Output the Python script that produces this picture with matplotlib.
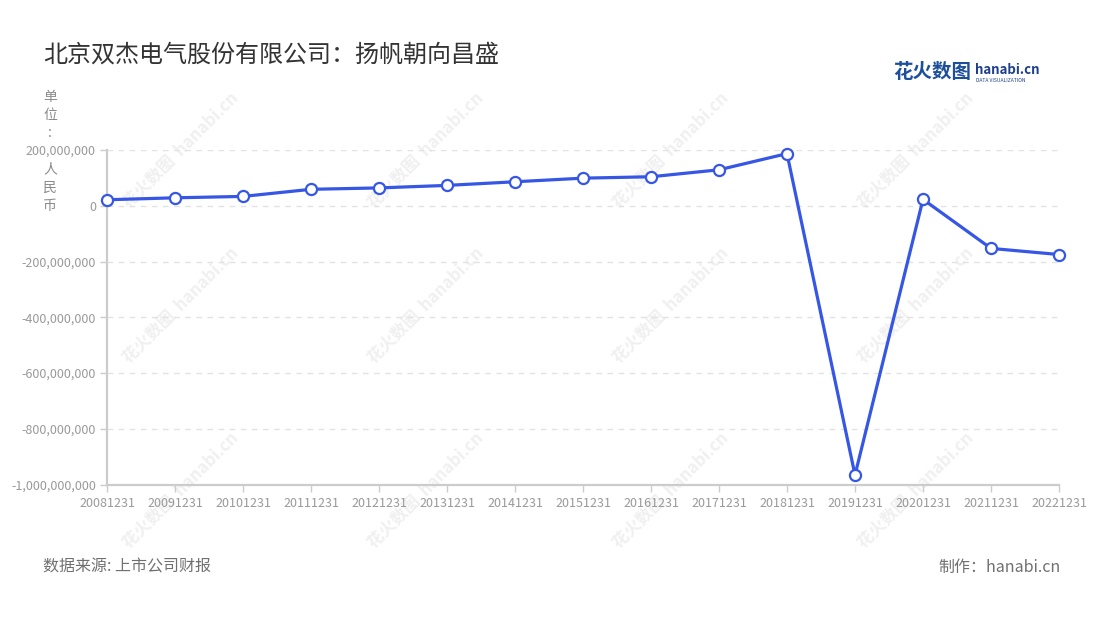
#!/usr/bin/env python3
import matplotlib
matplotlib.use('Agg')
import matplotlib.pyplot as plt
from matplotlib.ticker import FuncFormatter

plt.rcParams['font.family'] = ['Noto Sans CJK SC', 'DejaVu Sans']

# Data (net profit, RMB)
years = ['20081231', '20091231', '20101231', '20111231', '20121231',
         '20131231', '20141231', '20151231', '20161231', '20171231',
         '20181231', '20191231', '20201231', '20211231', '20221231']
profit = [21.5e6, 28.5e6, 33.5e6, 59e6, 64e6,
          73e6, 86e6, 99e6, 104e6, 129e6,
          187e6, -966e6, 23e6, -153e6, -175e6]
yTicks = [-1000000000, -800000000, -600000000, -400000000, -200000000, 0, 200000000]

titleText = '北京双杰电气股份有限公司：扬帆朝向昌盛'
unitText = '单位: 人民币'
sourceText = '数据来源: 上市公司财报'
makerText = '制作：hanabi.cn'

figureWidth = 11
figureHeight = 6.2
fig = plt.figure(figsize=(figureWidth, figureHeight), dpi=100)

# watermarks (very faint, behind everything)
for cx in [180, 425, 670, 915]:
    for cy in [150, 305, 490]:
        fig.text(cx / 1100, 1 - cy / 620, '花火数图  hanabi.cn', rotation=45,
                 ha='center', va='center', fontsize=12, fontweight='bold',
                 color='#f0f0f0', zorder=-5)

# main panel
ax = fig.add_axes([107 / 1100, 135.5 / 620, 952 / 1100, 334.5 / 620])
ax.patch.set_alpha(0)
ax.set_zorder(1)
xs = list(range(len(years)))
ax.plot(xs, profit, color='#3656e6', linewidth=2.3, zorder=3,
        marker='o', markersize=8, markerfacecolor='white',
        markeredgecolor='#3656e6', markeredgewidth=1.6, clip_on=False)

ax.set_xlim(0, len(years) - 1)
ax.set_ylim(-1000000000, 200000000)
ax.set_xticks(xs)
ax.set_xticklabels(years)
ax.set_yticks(yTicks)
ax.yaxis.set_major_formatter(FuncFormatter(lambda v, p: f'{int(v):,}'))
ax.grid(axis='y', color='#e2e2e2', linestyle=(0, (4, 4)), linewidth=1)
ax.set_axisbelow(True)

for side in ['top', 'right']:
    ax.spines[side].set_visible(False)
for side in ['left', 'bottom']:
    ax.spines[side].set_color('#cccccc')
    ax.spines[side].set_linewidth(1.6)
ax.tick_params(axis='both', colors='#cccccc', labelcolor='#999999',
               labelsize=9, length=5, width=1)
ax.tick_params(axis='x', pad=4)
ax.tick_params(axis='y', pad=3)

# title
fig.text(43 / 1100, 1 - 55 / 620, titleText, fontsize=17.3, color='#333333',
         ha='left', va='center')

# stacked unit label
for i, ch in enumerate(unitText):
    fig.text(50 / 1100, 1 - (97 + i * 18.2) / 620, ch, fontsize=10,
             color='#8a8a8a', ha='center', va='center')

# logo
fig.text(893 / 1100, 1 - 73 / 620, '花火数图', fontsize=14, fontweight='bold',
         color='#1d4f9c', ha='left', va='center')
fig.text(975 / 1100, 1 - 70 / 620, 'hanabi.cn', fontsize=9.5, fontweight='bold',
         color='#1d3f8c', ha='left', va='center')
fig.text(976 / 1100, 1 - 80.5 / 620, 'DATA VISUALIZATION', fontsize=3.6,
         color='#1d3f8c', ha='left', va='center')

# footer
fig.text(43 / 1100, 1 - 567 / 620, sourceText, fontsize=11.5, color='#707070',
         ha='left', va='center')
fig.text(1061 / 1100, 1 - 567 / 620, makerText, fontsize=11.5, color='#707070',
         ha='right', va='center')

plt.savefig('out.png', dpi=100)
